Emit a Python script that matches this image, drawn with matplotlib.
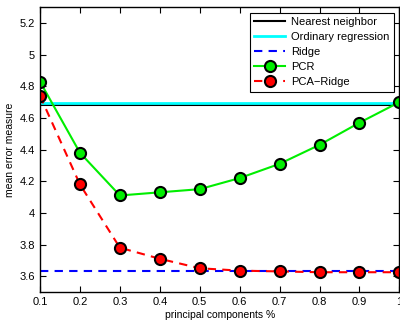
import matplotlib
matplotlib.use("Agg")
import matplotlib.pyplot as plt

plt.rcParams["font.family"] = ["Liberation Sans", "DejaVu Sans"]

# fraction of principal components kept
pc_frac = [0.1, 0.2, 0.3, 0.4, 0.5, 0.6, 0.7, 0.8, 0.9, 1.0]
pcr_err = [4.83, 4.38, 4.11, 4.13, 4.15, 4.22, 4.31, 4.43, 4.57, 4.70]
pca_ridge_err = [4.74, 4.18, 3.78, 3.71, 3.65, 3.635, 3.63, 3.625, 3.625, 3.625]

# constant baselines
nn_err = 4.68
ols_err = 4.692
ridge_err = 3.633

fig = plt.figure(figsize=(4, 3.2), dpi=100)
ax = fig.add_axes([0.1, 0.0875, 0.8985, 0.89])

ax.axhline(nn_err, color="black", lw=1.5, label="Nearest neighbor")
ax.axhline(ols_err, color="cyan", lw=2, label="Ordinary regression")
ax.axhline(ridge_err, color="blue", lw=1.5, ls=(0, (4, 3)), label="Ridge")
ax.plot(pc_frac, pcr_err, color="#00ee00", lw=1.5, marker="o", ms=8,
        mfc="#00ee00", mec="black", mew=1.5, label="PCR")
ax.plot(pc_frac, pca_ridge_err, color="red", lw=1.5, ls=(0, (4, 3)),
        marker="o", ms=8, mfc="red", mec="black", mew=1.5, label="PCA\u2212Ridge")

ax.set_xlim(0.1, 1.0)
ax.set_ylim(3.5, 5.3)
ax.set_xticks(pc_frac)
ax.set_xticklabels(["0.1", "0.2", "0.3", "0.4", "0.5", "0.6", "0.7", "0.8", "0.9", "1"])
ax.set_yticks([3.6, 3.8, 4.0, 4.2, 4.4, 4.6, 4.8, 5.0, 5.2])
ax.set_yticklabels(["3.6", "3.8", "4", "4.2", "4.4", "4.6", "4.8", "5", "5.2"])
ax.tick_params(direction="in", top=True, right=True, labelsize=8, length=4, width=0.8)
for sp in ax.spines.values():
    sp.set_linewidth(1.0)

ax.set_xlabel("principal components %", fontsize=7.5, labelpad=2)
ax.set_ylabel("mean error measure", fontsize=7.5, labelpad=3)

leg = ax.legend(loc="upper right", fontsize=8, fancybox=False, framealpha=1,
                edgecolor="black", handlelength=2.8, borderaxespad=0.5,
                labelspacing=0.45, borderpad=0.4, handletextpad=0.5)
leg.get_frame().set_linewidth(0.8)

fig.savefig("out.png", dpi=100)
